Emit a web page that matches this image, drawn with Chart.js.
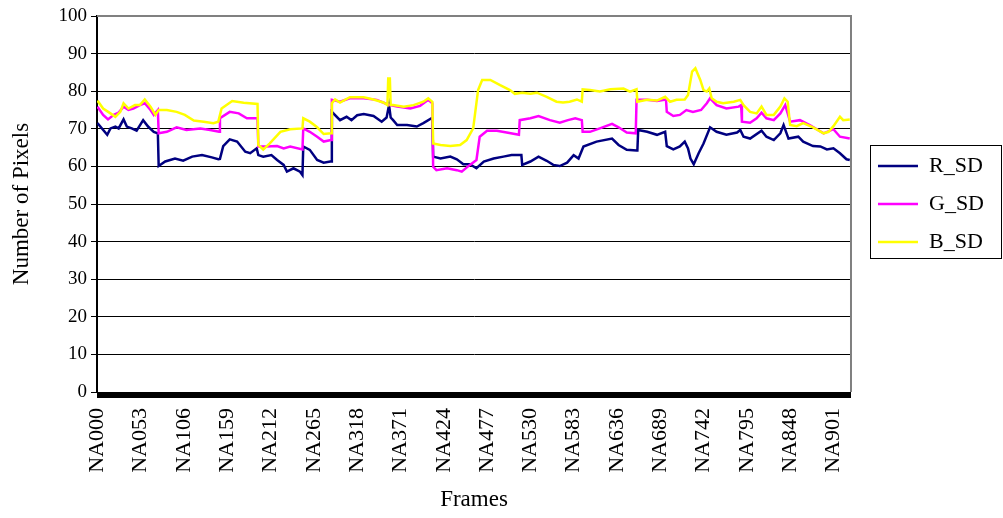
<!doctype html>
<html lang="en">
  <head>
    <meta charset="utf-8">
    <title>R_SD / G_SD / B_SD per frame</title>
    <style>
      * {
        margin: 0;
        padding: 0;
      }
      body {
        background: #fff;
      }
      .chartBox {
        width: 1003px;
        height: 518px;
      }
    </style>
  </head>
  <body>
    <div class="chartBox">
      <canvas id="myChart"></canvas>
    </div>
    <script src="https://cdn.jsdelivr.net/npm/chart.js/dist/chart.umd.min.js"></script>
    <script>
    // setup
    const lastFrame = 922;
    const tickFrames = [0, 53, 106, 159, 212, 265, 318, 371, 424, 477, 530, 583, 636, 689, 742, 795, 848, 901];
    const tickLabels = ['NA000', 'NA053', 'NA106', 'NA159', 'NA212', 'NA265', 'NA318', 'NA371', 'NA424',
                        'NA477', 'NA530', 'NA583', 'NA636', 'NA689', 'NA742', 'NA795', 'NA848', 'NA901'];

    // [frame, value]
    const rSD = [
      [0, 71.5], [12, 68.4], [16, 70.1], [22, 70.6], [26, 70.1], [32, 72.5], [36, 70.6], [42, 70.1], [48, 69.5], [56, 72.3],
      [62, 70.6], [69, 69.2], [74, 68.8], [75, 60.1], [83, 61.3], [95, 62.1], [105, 61.5], [116, 62.6], [128, 63.0], [140, 62.4],
      [148, 61.9], [150, 62.0], [154, 65.4], [162, 67.2], [171, 66.6], [181, 63.9], [187, 63.5], [195, 64.8], [197, 63.0], [203, 62.6],
      [213, 63.0], [220, 61.7], [228, 60.4], [232, 58.6], [240, 59.5], [248, 58.6], [251, 57.7], [252, 65.3], [260, 64.4], [269, 61.7],
      [277, 61.0], [285, 61.3], [286, 61.3], [287, 74.5], [297, 72.3], [305, 73.2], [311, 72.3], [318, 73.6], [326, 73.9], [338, 73.4],
      [348, 71.9], [354, 73.0], [357, 76.3], [358, 76.3], [359, 73.0], [362, 72.3], [367, 71.0], [379, 71.0], [391, 70.6], [399, 71.5],
      [409, 72.8], [410, 72.8], [411, 62.6], [420, 62.1], [432, 62.6], [440, 61.9], [448, 60.6], [456, 60.6], [464, 59.5], [473, 61.3],
      [485, 62.1], [497, 62.6], [507, 63.0], [515, 63.0], [519, 63.0], [520, 60.4], [530, 61.3], [540, 62.6], [550, 61.5], [558, 60.4],
      [566, 60.1], [575, 61.0], [583, 63.0], [589, 62.1], [595, 65.3], [611, 66.6], [630, 67.4], [638, 65.7], [648, 64.4], [660, 64.2],
      [661, 64.2], [662, 69.7], [673, 69.2], [685, 68.4], [695, 69.2], [697, 65.4], [705, 64.5], [713, 65.3], [719, 66.6], [723, 64.8],
      [726, 62.1], [730, 60.6], [736, 63.5], [742, 66.1], [750, 70.4], [758, 69.2], [770, 68.4], [783, 69.0], [787, 69.7], [791, 67.9],
      [799, 67.4], [813, 69.5], [819, 67.9], [828, 67.0], [836, 68.8], [840, 71.0], [846, 67.4], [858, 67.9], [864, 66.6], [876, 65.4],
      [885, 65.3], [893, 64.5], [901, 64.8], [909, 63.5], [917, 61.9], [921, 61.7]
    ];
    const gSD = [
      [0, 75.9], [7, 73.7], [13, 72.5], [20, 73.7], [26, 74.3], [32, 75.9], [38, 75.0], [44, 75.4], [52, 76.3], [58, 76.8],
      [65, 75.0], [69, 73.7], [74, 75.0], [75, 68.8], [85, 69.2], [97, 70.4], [109, 69.7], [126, 70.1], [138, 69.7], [149, 69.2],
      [150, 72.8], [162, 74.5], [173, 74.1], [183, 72.8], [196, 72.8], [197, 65.3], [207, 65.3], [220, 65.4], [228, 64.8], [236, 65.3],
      [251, 64.5], [252, 70.1], [260, 69.2], [269, 67.9], [277, 66.6], [286, 67.0], [287, 77.7], [297, 77.2], [309, 78.1], [326, 78.1],
      [342, 77.7], [352, 76.8], [358, 76.3], [367, 75.9], [383, 75.4], [395, 76.1], [405, 77.7], [410, 76.8], [411, 59.9], [415, 59.0],
      [428, 59.5], [440, 59.0], [446, 58.6], [456, 60.4], [464, 61.7], [468, 67.9], [477, 69.5], [489, 69.5], [501, 69.0], [516, 68.4],
      [517, 72.3], [530, 72.8], [540, 73.4], [554, 72.3], [566, 71.6], [576, 72.3], [585, 72.8], [593, 72.3], [594, 69.2], [603, 69.2],
      [615, 70.1], [630, 71.3], [638, 70.4], [648, 69.0], [659, 68.8], [660, 77.7], [673, 77.7], [685, 77.4], [696, 77.8], [697, 74.5],
      [705, 73.4], [713, 73.7], [721, 75.0], [729, 74.5], [739, 75.0], [746, 76.8], [750, 78.1], [758, 76.3], [770, 75.4], [785, 75.9],
      [788, 76.3], [789, 71.9], [799, 71.6], [807, 72.8], [813, 74.3], [819, 72.8], [828, 72.3], [836, 74.1], [842, 76.3], [848, 71.9],
      [860, 72.3], [872, 71.0], [889, 68.8], [901, 69.9], [909, 67.9], [921, 67.4]
    ];
    const bSD = [
      [0, 77.5], [7, 75.4], [16, 74.1], [22, 73.2], [28, 74.5], [32, 76.8], [38, 75.4], [46, 76.3], [52, 76.3], [58, 77.8],
      [65, 75.9], [71, 73.7], [75, 75.0], [85, 75.0], [97, 74.5], [107, 73.7], [118, 72.2], [130, 71.9], [142, 71.5], [148, 71.9],
      [152, 75.4], [165, 77.4], [179, 76.9], [196, 76.6], [197, 65.7], [203, 64.5], [211, 66.1], [224, 69.2], [236, 69.9], [251, 70.1],
      [252, 72.8], [260, 71.9], [269, 70.4], [277, 68.6], [286, 68.8], [287, 76.8], [291, 77.8], [297, 77.0], [309, 78.4], [326, 78.4],
      [338, 77.8], [350, 77.0], [355, 76.3], [356, 83.4], [358, 83.4], [359, 76.3], [362, 76.3], [375, 75.9], [387, 76.3], [399, 77.2],
      [405, 78.1], [410, 77.2], [411, 66.1], [420, 65.7], [432, 65.4], [444, 65.7], [452, 67.0], [460, 70.1], [466, 80.3], [471, 83.0],
      [481, 83.0], [493, 81.6], [505, 80.3], [511, 79.3], [520, 79.6], [530, 79.3], [538, 79.6], [550, 78.5], [562, 77.2], [570, 77.0],
      [578, 77.2], [587, 77.8], [593, 77.2], [594, 80.5], [603, 80.3], [615, 79.9], [628, 80.5], [644, 80.7], [652, 79.9], [660, 80.5],
      [661, 77.2], [673, 77.7], [685, 77.5], [695, 78.5], [701, 77.2], [709, 77.7], [719, 77.8], [723, 79.0], [728, 85.2], [732, 86.1],
      [738, 83.0], [742, 80.3], [746, 79.9], [749, 80.7], [752, 78.1], [758, 77.2], [766, 76.8], [779, 77.2], [787, 77.7], [791, 76.3],
      [799, 74.5], [807, 74.1], [813, 75.9], [819, 73.7], [828, 73.7], [836, 75.9], [841, 78.1], [845, 77.2], [848, 71.0], [856, 70.7],
      [864, 71.5], [876, 70.4], [889, 68.8], [895, 69.2], [901, 70.7], [909, 73.2], [913, 72.3], [921, 72.5]
    ];

    Chart.defaults.font.family = "'Liberation Serif', 'Times New Roman', serif";
    Chart.defaults.color = '#000';

    const toPoints = (pairs) => pairs.map(([x, y]) => ({ x, y }));
    const lineStyle = { borderWidth: 2.5, pointRadius: 0, tension: 0, fill: false };

    const data = {
      datasets: [
        { label: 'R_SD', data: toPoints(rSD), borderColor: '#000080', backgroundColor: '#000080', order: 2, ...lineStyle },
        { label: 'G_SD', data: toPoints(gSD), borderColor: '#FF00FF', backgroundColor: '#FF00FF', order: 1, ...lineStyle },
        { label: 'B_SD', data: toPoints(bSD), borderColor: '#FFFF00', backgroundColor: '#FFFF00', order: 0, ...lineStyle }
      ]
    };

    // grey frame on top and right of the plot area
    const plotFrame = {
      id: 'plotFrame',
      beforeDatasetsDraw(chart) {
        const { ctx, chartArea: { top, left, right, bottom } } = chart;
        ctx.save();
        ctx.strokeStyle = '#808080';
        ctx.lineWidth = 2;
        ctx.beginPath();
        ctx.moveTo(left, top);
        ctx.lineTo(right, top);
        ctx.lineTo(right, bottom);
        ctx.stroke();
        ctx.restore();
      }
    };

    // nudge legend away from the plot and box it in
    const legendBox = {
      id: 'legendBox',
      beforeDraw(chart) {
        chart.legend.left = chart.chartArea.right + 11;
      },
      afterDraw(chart) {
        const { ctx, legend } = chart;
        const boxes = legend.legendHitBoxes;
        const last = boxes[boxes.length - 1];
        const top = boxes[0].top - 10;
        const bottom = last.top + last.height + 5;
        ctx.save();
        ctx.strokeStyle = '#000';
        ctx.lineWidth = 1;
        ctx.strokeRect(Math.round(legend.left + 8) + 0.5, Math.round(top) + 0.5, 131, Math.round(bottom - top));
        ctx.restore();
      }
    };

    // config
    const config = {
      type: 'line',
      data,
      options: {
        animation: false,
        responsive: true,
        maintainAspectRatio: false,
        layout: {
          padding: { top: 16, right: 20, bottom: 0, left: 0 }
        },
        scales: {
          x: {
            type: 'linear',
            min: -0.5,
            max: lastFrame + 0.5,
            afterBuildTicks(axis) {
              // one tick mark per frame, like the source
              const ticks = [];
              for (let f = 0; f <= lastFrame; f++) ticks.push({ value: f });
              axis.ticks = ticks;
            },
            afterFit(axis) {
              axis.height = 126;
            },
            grid: { drawOnChartArea: false, drawTicks: true, tickLength: 6, color: '#000', lineWidth: 1 },
            border: { display: true, color: '#000', width: 1 },
            ticks: {
              autoSkip: false,
              minRotation: 90,
              maxRotation: 90,
              padding: 10,
              font: { size: 22 },
              callback: (value) => {
                const i = tickFrames.indexOf(value);
                return i >= 0 ? tickLabels[i] : '';
              }
            },
            title: { display: true, text: 'Frames', font: { size: 23 }, padding: { top: 0, bottom: 4 } }
          },
          y: {
            min: 0,
            max: 100,
            afterFit(axis) {
              axis.width = 97;
            },
            ticks: { stepSize: 10, padding: 4, font: { size: 19 } },
            grid: { color: '#000', lineWidth: 1, tickLength: 6 },
            border: { color: '#000', width: 2 },
            title: { display: true, text: 'Number of Pixels', font: { size: 23 }, padding: { top: 8, bottom: 0 } }
          }
        },
        plugins: {
          legend: {
            position: 'right',
            fullSize: false,
            labels: {
              usePointStyle: true,
              pointStyle: 'line',
              pointStyleWidth: 40,
              padding: 16,
              font: { size: 22 },
              color: '#000',
              sort: (a, b) => a.datasetIndex - b.datasetIndex
            }
          },
          tooltip: { enabled: false }
        }
      },
      plugins: [plotFrame, legendBox]
    };

    // render init block
    const myChart = new Chart(document.getElementById('myChart'), config);
    </script>
  </body>
</html>
